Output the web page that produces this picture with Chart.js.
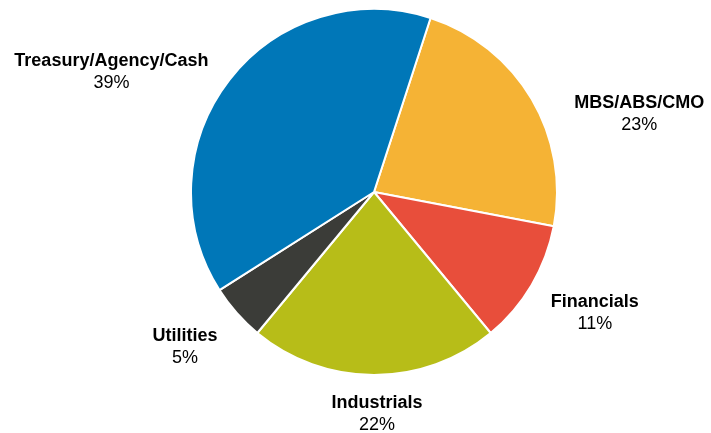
<!DOCTYPE html>
<html>
<head>
<meta charset="utf-8">
<script src="https://cdn.jsdelivr.net/npm/chart.js@4/dist/chart.umd.min.js"></script>
<style>
  html, body { margin: 0; padding: 0; background: #fff; }
  #wrap { width: 711px; height: 433px; position: relative; }
</style>
</head>
<body>
<div id="wrap"><canvas id="pie"></canvas></div>
<script>
  "use strict";

  // slice order runs clockwise, starting just right of twelve o'clock
  var categories = ["MBS/ABS/CMO", "Financials", "Industrials", "Utilities", "Treasury/Agency/Cash"];
  var shares = [23, 11, 22, 5, 39];
  var colors = ["#f5b335", "#e84e3b", "#b7bd18", "#3b3c38", "#0077b8"];

  // label placement: angle nudge from slice middle (deg) and distance as a multiple of the radius
  var labelTurn = [14.3, -1.8, -0.8, 2.1, -13.3];
  var labelReach = [1.51, 1.377, 1.212, 1.334, 1.577];

  var outsideLabels = {
    id: "outsideLabels",
    afterDatasetsDraw: function (chart) {
      var ctx = chart.ctx;
      var arcs = chart.getDatasetMeta(0).data;
      ctx.save();
      ctx.fillStyle = "#000";
      ctx.textAlign = "center";
      ctx.textBaseline = "middle";
      arcs.forEach(function (arc, i) {
        var p = arc.getProps(["x", "y", "startAngle", "endAngle", "outerRadius"], true);
        var a = (p.startAngle + p.endAngle) / 2 + labelTurn[i] * Math.PI / 180;
        var d = p.outerRadius * labelReach[i];
        var x = p.x + Math.cos(a) * d;
        var y = p.y + Math.sin(a) * d;
        ctx.font = "bold 18px 'Liberation Sans', Arial, sans-serif";
        ctx.fillText(categories[i], x, y - 11);
        ctx.font = "18px 'Liberation Sans', Arial, sans-serif";
        ctx.fillText(shares[i] + "%", x, y + 11);
      });
      ctx.restore();
    }
  };

  new Chart(document.getElementById("pie"), {
    type: "pie",
    data: {
      labels: categories,
      datasets: [{
        data: shares,
        backgroundColor: colors,
        borderColor: "#ffffff",
        borderWidth: 2,
      }],
    },
    options: {
      responsive: true,
      maintainAspectRatio: false,
      animation: false,
      rotation: 18,
      layout: { padding: { top: 8, bottom: 57, left: 190, right: 153 } },
      plugins: {
        legend: { display: false },
        tooltip: { enabled: false },
      },
    },
    plugins: [outsideLabels],
  });
</script>
</body>
</html>
